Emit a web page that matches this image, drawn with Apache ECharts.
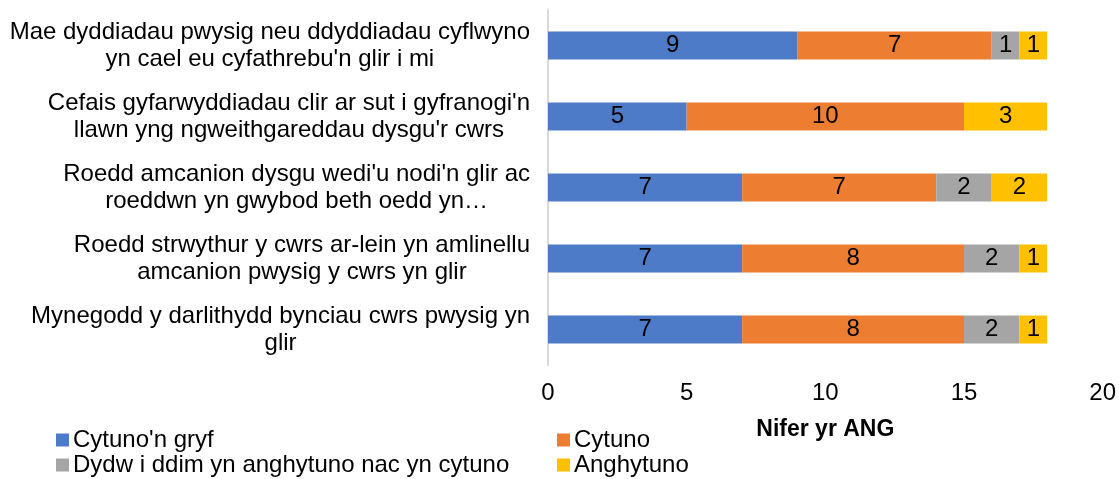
<!DOCTYPE html>
<html>
<head>
<meta charset="utf-8">
<title>Nifer yr ANG</title>
<script src="https://cdn.jsdelivr.net/npm/echarts@6/dist/echarts.min.js"></script>
<style>
    html, body { margin: 0; padding: 0; background: #fff; }
    #chart { width: 1119px; height: 479px; }
</style>
</head>
<body>
<div id="chart"></div>
<script>
// ============================
// Data
// ============================
const categories = [
    "Mae dyddiadau pwysig neu ddyddiadau cyflwyno\nyn cael eu cyfathrebu'n glir i mi",
    "Cefais gyfarwyddiadau clir ar sut i gyfranogi'n\nllawn yng ngweithgareddau dysgu'r cwrs",
    "Roedd amcanion dysgu wedi'u nodi'n glir ac\nroeddwn yn gwybod beth oedd yn…",
    "Roedd strwythur y cwrs ar-lein yn amlinellu\namcanion pwysig y cwrs yn glir",
    "Mynegodd y darlithydd bynciau cwrs pwysig yn\nglir"
];
const seriesNames = ["Cytuno'n gryf", "Cytuno", "Dydw i ddim yn anghytuno nac yn cytuno", "Anghytuno"];
const stronglyAgree = [9, 5, 7, 7, 7];
const agree = [7, 10, 7, 8, 8];
const neutral = [1, 0, 2, 2, 2];
const disagree = [1, 3, 2, 1, 1];
const xTicks = [0, 5, 10, 15, 20];

const colors = ['#4E7BC8', '#ED7D31', '#A5A5A5', '#FFC000'];
const font = '"Liberation Sans", Arial, sans-serif';
const fontSize = 24;

// ============================
// Chart
// ============================
const chart = echarts.init(document.getElementById('chart'));

const seriesData = [stronglyAgree, agree, neutral, disagree];
const series = seriesData.map((data, i) => ({
    name: seriesNames[i],
    type: 'bar',
    stack: 'total',
    barWidth: 28,
    itemStyle: { color: colors[i] },
    label: {
        show: true,
        position: 'inside',
        color: '#000',
        fontFamily: font,
        fontSize: fontSize,
        formatter: p => (p.value ? String(p.value) : '')
    },
    data: data
}));

// legend: two columns, two rows
const legendPos = [
    { left: 56, top: 428 },
    { left: 557, top: 428 },
    { left: 56, top: 453 },
    { left: 557, top: 453 }
];
const legends = seriesNames.map((name, i) => ({
    data: [name],
    left: legendPos[i].left,
    top: legendPos[i].top,
    padding: 0,
    icon: 'rect',
    itemWidth: 13,
    itemHeight: 13,
    selectedMode: false,
    textStyle: { fontFamily: font, fontSize: fontSize, color: '#000', padding: [0, 0, 0, -1] }
}));

chart.setOption({
    animation: false,
    textStyle: { fontFamily: font },
    legend: legends,
    grid: { left: 548, right: 16, top: 10, bottom: 114, containLabel: false },
    xAxis: {
        type: 'value',
        min: xTicks[0],
        max: xTicks[xTicks.length - 1],
        interval: 5,
        axisLine: { show: false },
        axisTick: { show: false },
        splitLine: { show: false },
        axisLabel: { color: '#000', fontFamily: font, fontSize: fontSize, margin: 16 },
        name: 'Nifer yr ANG',
        nameLocation: 'middle',
        nameGap: 53,
        nameTextStyle: { color: '#000', fontFamily: font, fontSize: 23, fontWeight: 'bold' }
    },
    yAxis: {
        type: 'category',
        inverse: true,
        data: categories,
        axisLine: { show: true, lineStyle: { color: '#D9D9D9', width: 2 } },
        axisTick: { show: false },
        axisLabel: {
            interval: 0,
            margin: 18,
            align: 'right',
            color: '#000',
            fontFamily: font,
            fontSize: fontSize,
            lineHeight: 27,
            // 每行文字在标签块内居中
            formatter: v => v.split('\n').map(line => '{c|' + line + '}').join('\n'),
            rich: {
                c: { align: 'center', color: '#000', fontFamily: font, fontSize: fontSize, lineHeight: 27 }
            }
        }
    },
    series: series
});
</script>
</body>
</html>
